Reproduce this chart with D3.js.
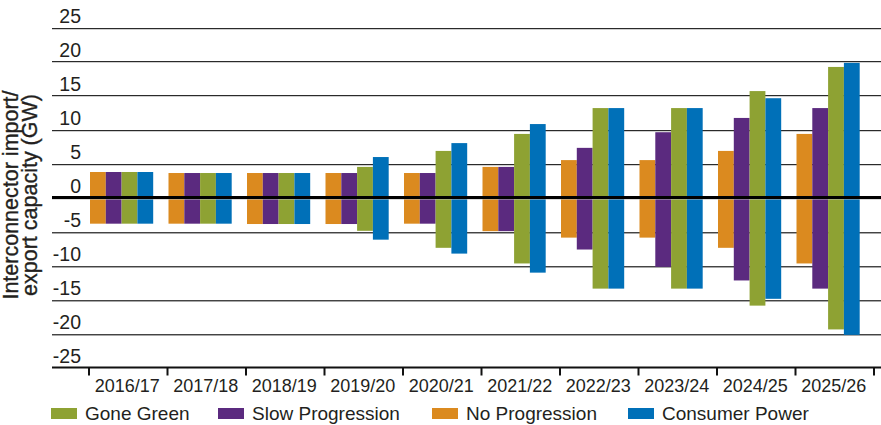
<!DOCTYPE html>
<html>
<head>
<meta charset="utf-8">
<script src="https://cdn.jsdelivr.net/npm/d3@7/dist/d3.min.js"></script>
<style>
  html, body { margin: 0; padding: 0; background: #fff; }
  svg { display: block; }
  text { font-family: "Liberation Sans", Arial, Helvetica, sans-serif; fill: #231f20; }
</style>
</head>
<body>
<div id="chart"></div>
<script>
const categories = ["2016/17","2017/18","2018/19","2019/20","2020/21","2021/22","2022/23","2023/24","2024/25","2025/26"];
const seriesNames = ["No Progression","Slow Progression","Gone Green","Consumer Power"];
const seriesColors = ["#DB8A1F","#5B2A7F","#8EA233","#0070B8"];
const legendOrder = ["Gone Green","Slow Progression","No Progression","Consumer Power"];

const importNP = [3.75, 3.6, 3.6, 3.6, 3.6, 4.5, 5.5, 5.5, 6.85, 9.35];
const exportNP = [-3.85, -3.85, -3.9, -3.9, -3.85, -4.95, -5.9, -5.9, -7.4, -9.7];
const importSP = [3.75, 3.6, 3.6, 3.6, 3.6, 4.5, 7.3, 9.6, 11.7, 13.15];
const exportSP = [-3.85, -3.85, -3.9, -3.9, -3.85, -4.95, -7.65, -10.2, -12.2, -13.4];
const importGG = [3.75, 3.6, 3.6, 4.5, 6.85, 9.35, 13.15, 13.15, 15.65, 19.2];
const exportGG = [-3.85, -3.85, -3.9, -4.9, -7.4, -9.7, -13.4, -13.4, -15.9, -19.4];
const importCP = [3.75, 3.6, 3.6, 5.95, 8.0, 10.8, 13.15, 13.15, 14.6, 19.8];
const exportCP = [-3.85, -3.85, -3.9, -6.2, -8.25, -11.05, -13.4, -13.4, -14.9, -20.2];

const yTicks = [25, 20, 15, 10, 5, 0, -5, -10, -15, -20, -25];

const importData = {"No Progression": importNP, "Slow Progression": importSP, "Gone Green": importGG, "Consumer Power": importCP};
const exportData = {"No Progression": exportNP, "Slow Progression": exportSP, "Gone Green": exportGG, "Consumer Power": exportCP};

const W = 881, H = 425;
const svg = d3.select("#chart").append("svg").attr("width", W).attr("height", H);

const y = d3.scaleLinear().domain([-25, 25]).range([367.5, 27.5]);
const x0 = d3.scaleBand().domain(categories).range([89, 874]).padding(0);
const groupW = x0.bandwidth() * 0.805;
const x1 = d3.scaleBand().domain(seriesNames).range([0, groupW]).padding(0);
const color = d3.scaleOrdinal().domain(seriesNames).range(seriesColors);
const gridLeft = 52;

// gridlines
const grid = svg.append("g");
yTicks.filter(t => t !== 0 && t !== -25).forEach(t => {
  const yy = Math.round(y(t));
  grid.append("line").attr("x1", gridLeft).attr("x2", W).attr("y1", yy + 0.5).attr("y2", yy + 0.5)
    .attr("stroke", t > 0 ? "#2a2a2a" : "#444").attr("stroke-width", 1);
  grid.append("line").attr("x1", gridLeft).attr("x2", W).attr("y1", yy + 1.5).attr("y2", yy + 1.5)
    .attr("stroke", t > 0 ? "#cfcfcf" : "#a8a8a8").attr("stroke-width", 1);
});

// y tick labels
svg.append("g").selectAll("text").data(yTicks).join("text")
  .attr("x", 81).attr("y", d => y(d) - 4.5)
  .attr("text-anchor", "end").attr("font-size", 19.5)
  .text(d => d);

// bars
const groups = svg.append("g").selectAll("g").data(categories).join("g")
  .attr("transform", d => `translate(${x0(d) + 1},0)`);
seriesNames.forEach(s => {
  groups.append("rect")
    .attr("x", x1(s)).attr("width", x1.bandwidth())
    .attr("y", (d, i) => y(importData[s][i]))
    .attr("height", (d, i) => y(exportData[s][i]) - y(importData[s][i]))
    .attr("fill", color(s));
});

// zero line
svg.append("line").attr("x1", gridLeft).attr("x2", W).attr("y1", y(0) + 1.5).attr("y2", y(0) + 1.5)
  .attr("stroke", "#bbb").attr("stroke-width", 1);
svg.append("line").attr("x1", gridLeft).attr("x2", W).attr("y1", y(0)).attr("y2", y(0))
  .attr("stroke", "#000").attr("stroke-width", 3);

// x axis
const gx = svg.append("g").attr("transform", `translate(0,${y(-25)})`);
gx.append("line").attr("x1", gridLeft).attr("x2", W).attr("y1", 0).attr("y2", 0)
  .attr("stroke", "#111").attr("stroke-width", 2);
const tickPos = categories.map(c => x0(c)).concat([x0(categories[categories.length - 1]) + x0.bandwidth()]);
gx.selectAll("line.tick").data(tickPos).join("line").attr("class", "tick")
  .attr("x1", d => d).attr("x2", d => d).attr("y1", 0).attr("y2", 8)
  .attr("stroke", "#111").attr("stroke-width", 2);
gx.selectAll("text.lab").data(categories).join("text").attr("class", "lab")
  .attr("x", d => x0(d) + x0.bandwidth() / 2 - 1).attr("y", 24.5)
  .attr("text-anchor", "middle").attr("font-size", 18)
  .text(d => d);

// y axis title
const title = svg.append("text")
  .attr("transform", "translate(0,195) rotate(-90)")
  .attr("text-anchor", "middle").attr("font-size", 21.5)
  .style("stroke", "#231f20").style("stroke-width", 0.35);
title.append("tspan").attr("x", 0).attr("y", 18).text("Interconnector import/");
title.append("tspan").attr("x", 0).attr("y", 36.5).text("export capacity (GW)");

// legend
const legendX = [51, 218, 432, 628];
const leg = svg.append("g").selectAll("g").data(legendOrder).join("g")
  .attr("transform", (d, i) => `translate(${legendX[i]},0)`);
leg.append("rect").attr("x", 0).attr("y", 408).attr("width", 26).attr("height", 11)
  .attr("fill", d => color(d));
leg.append("text").attr("x", 34).attr("y", 419.5).attr("font-size", 19).text(d => d);
</script>
</body>
</html>
